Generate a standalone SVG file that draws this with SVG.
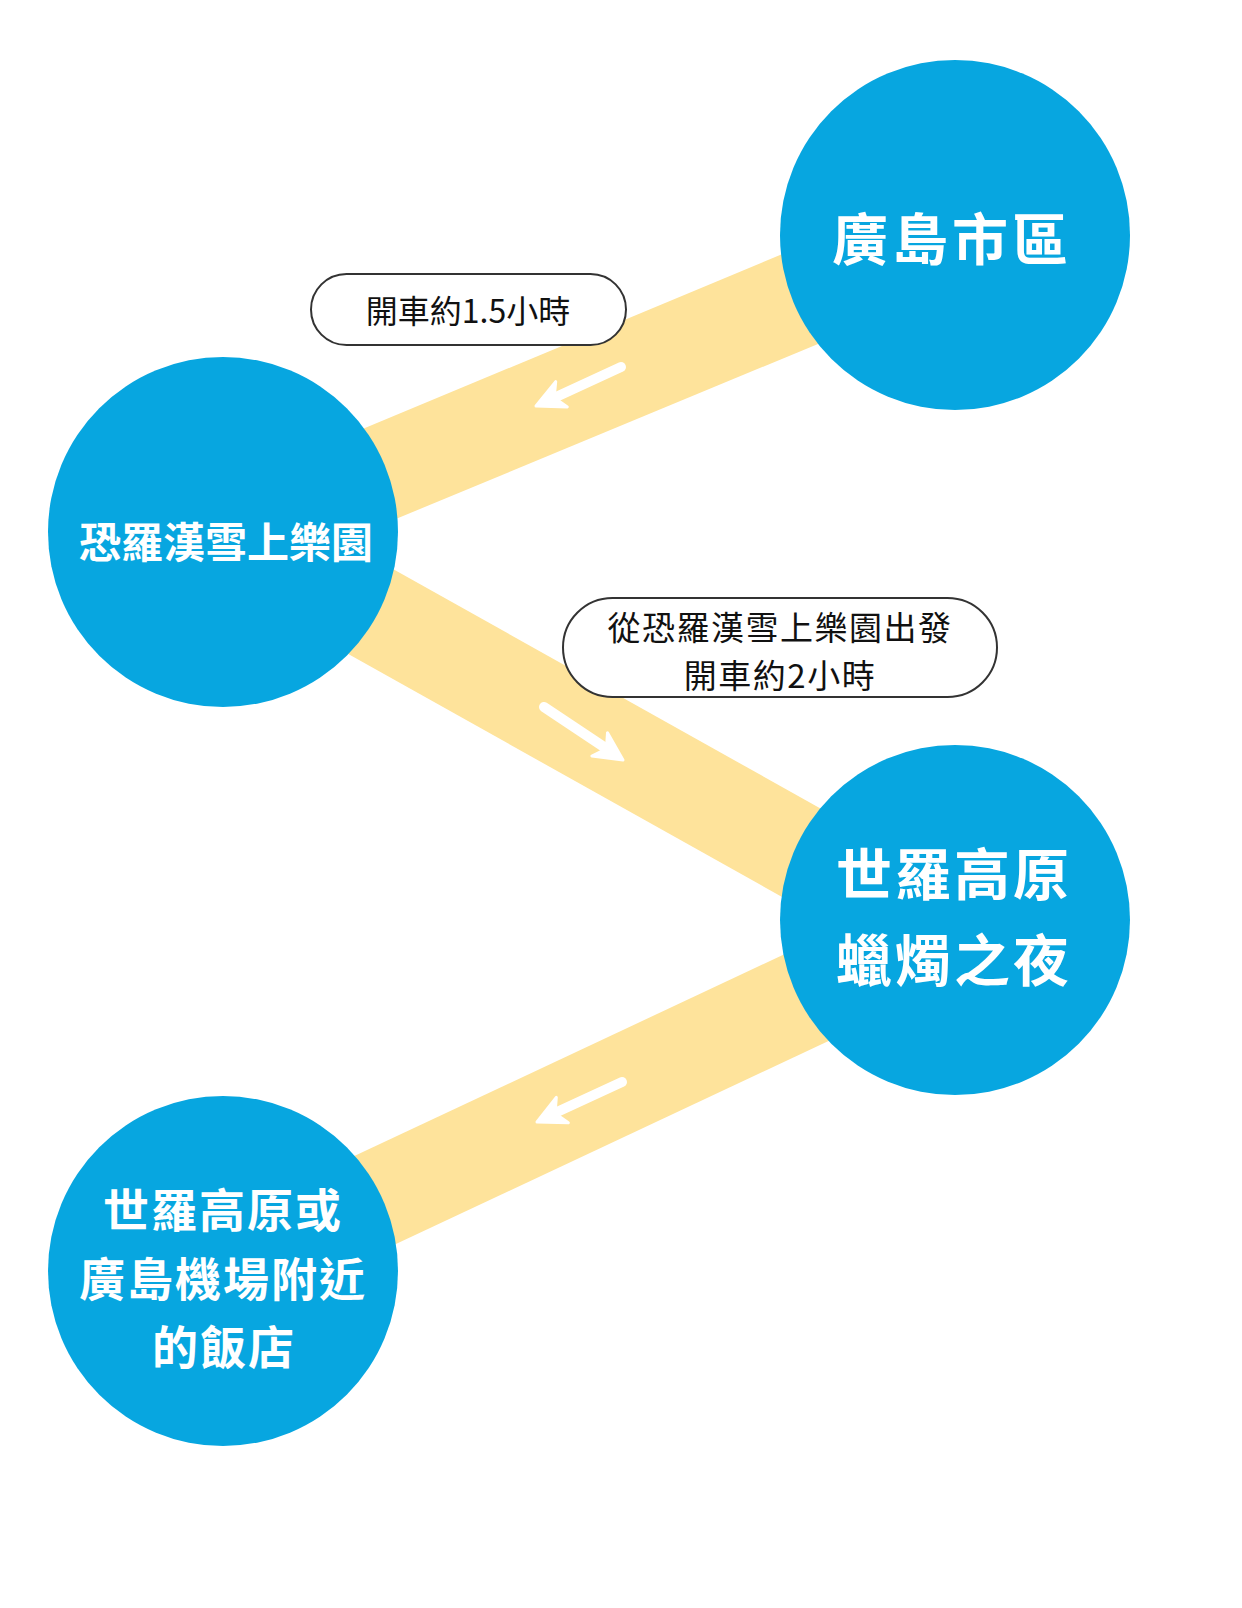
<svg xmlns="http://www.w3.org/2000/svg" width="1242" height="1608" viewBox="0 0 1242 1608">
<style>
.band{fill:#FEE39B}
.node{fill:#07A6E0}
.ntext{fill:#FFFFFF;font-family:"Noto Sans CJK TC","Noto Sans CJK SC",sans-serif;font-weight:700;text-anchor:middle;dominant-baseline:central}
.pill{fill:#FFFFFF;stroke:#333333;stroke-width:2}
.ptext{fill:#111111;font-family:"Noto Sans CJK TC","Noto Sans CJK SC",sans-serif;font-weight:400;text-anchor:middle;dominant-baseline:central}
.shaft{stroke:#FFFFFF;stroke-width:10;stroke-linecap:round;fill:none}
.head{fill:#FFFFFF;stroke:#FFFFFF;stroke-width:3;stroke-linejoin:round}
</style>
<rect width="1242" height="1608" fill="#FFFFFF"/>
<g id="connectors">
  <polygon class="band" points="900,205 250,476 280,567 900,310"/>
  <polygon class="band" points="300,517 1000,909 950,991 250,599"/>
  <polygon class="band" points="900,900 250,1205 300,1289 950,984"/>
</g>
<g id="node-hiroshima">
  <circle class="node" cx="955" cy="235" r="175"/>
  <text class="ntext" x="952" y="235" font-size="56" letter-spacing="4">廣島市區</text>
</g>
<g id="node-osorakan">
  <circle class="node" cx="223" cy="532" r="175"/>
  <text class="ntext" x="226" y="539" font-size="42">恐羅漢雪上樂園</text>
</g>
<g id="node-sera">
  <circle class="node" cx="955" cy="920" r="175"/>
  <text class="ntext" x="954" y="870" font-size="56" letter-spacing="3">世羅高原</text>
  <text class="ntext" x="954" y="956" font-size="56" letter-spacing="3">蠟燭之夜</text>
</g>
<g id="node-hotel">
  <circle class="node" cx="223" cy="1271" r="175"/>
  <text class="ntext" x="223" y="1207" font-size="46" letter-spacing="2">世羅高原或</text>
  <text class="ntext" x="223" y="1276" font-size="46" letter-spacing="2">廣島機場附近</text>
  <text class="ntext" x="224" y="1344" font-size="46" letter-spacing="2">的飯店</text>
</g>
<g id="arrows">
  <line class="shaft" x1="621" y1="367" x2="556" y2="397"/>
  <polygon class="head" points="536,406 555.7,381.6 554.2,397.7 567.3,407"/>
  <line class="shaft" x1="544" y1="707" x2="604" y2="747"/>
  <polygon class="head" points="623,760 607.5,732.8 606.4,748.9 591.9,756"/>
  <line class="shaft" x1="622" y1="1082" x2="557" y2="1112"/>
  <polygon class="head" points="537,1122 556.3,1097.4 555.1,1113.5 568.3,1122.8"/>
</g>
<g id="label-1">
  <rect class="pill" x="311" y="274" width="315" height="71" rx="35.5"/>
  <text class="ptext" x="468" y="309" font-size="32">開車約1.5小時</text>
</g>
<g id="label-2">
  <rect class="pill" x="563" y="598" width="434" height="99" rx="49.5"/>
  <text class="ptext" x="780" y="626" font-size="33" letter-spacing="1.5">從恐羅漢雪上樂園出發</text>
  <text class="ptext" x="780" y="674" font-size="33" letter-spacing="1.5">開車約2小時</text>
</g>
</svg>
